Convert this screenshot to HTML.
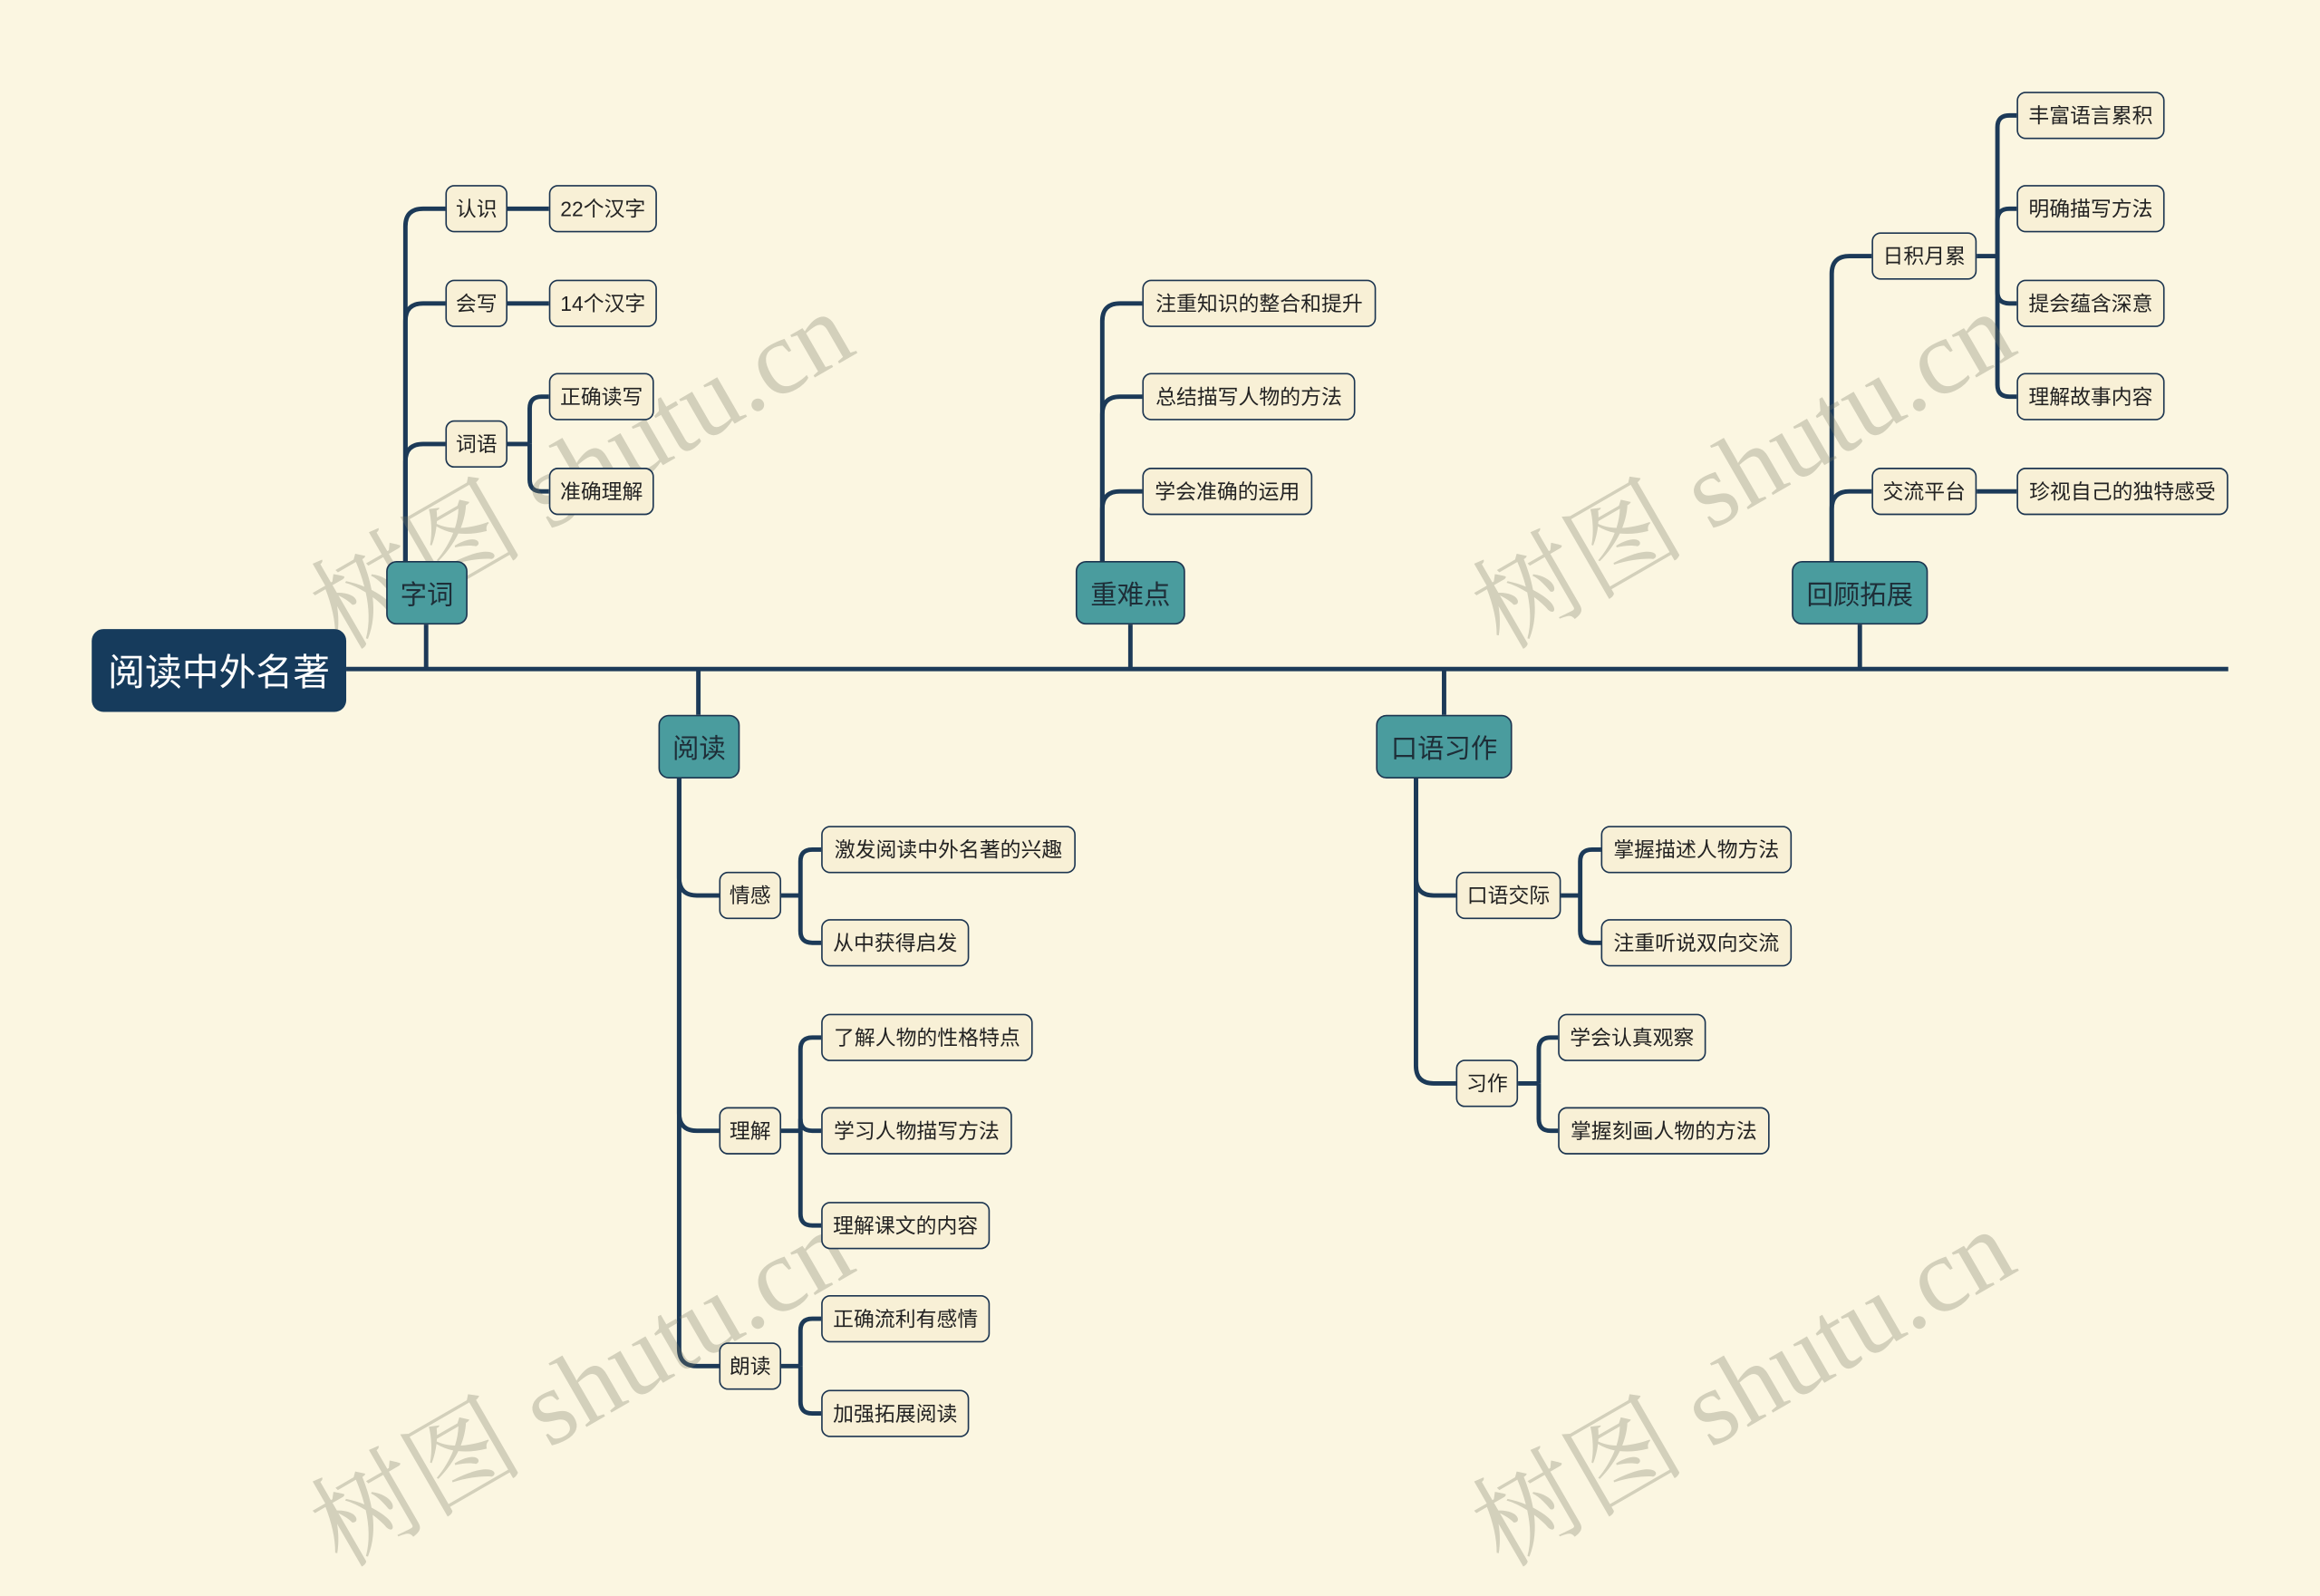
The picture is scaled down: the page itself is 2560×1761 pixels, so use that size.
<!DOCTYPE html>
<html><head><meta charset="utf-8">
<style>
html,body{margin:0;padding:0;width:2560px;height:1687px;overflow:hidden;background:#fbf6e1;}
#c{position:absolute;left:0;top:0;width:1568px;height:1033px;transform:scale(1.63265,1.6331);transform-origin:0 0;font-family:"Liberation Sans","Noto Sans CJK SC",sans-serif;}
svg{position:absolute;left:0;top:0;}
.n{position:absolute;box-sizing:border-box;border:1.5px solid #1c3550;border-radius:6px;background:#f8f0d6;color:#222;font-size:14px;display:flex;align-items:center;justify-content:center;white-space:nowrap;}
.m{background:#4a9c9e;font-size:18px;color:#1e2e38;border-radius:7px;}
.r{background:#163b5c;color:#fff;font-size:25px;border-radius:8px;border:none;}
.w{position:absolute;font-family:"Liberation Serif","Noto Serif CJK SC",serif;font-size:72px;color:rgba(120,120,100,0.3);transform:rotate(-30deg);white-space:nowrap;transform-origin:center;}
</style></head><body>
<div id="c">
<svg width="1568" height="1033" id="s"><g fill="none" stroke="#1c3a58" stroke-width="3" id="g">
<line x1="234" y1="452" x2="1506" y2="452"/>
<line x1="288" y1="422" x2="288" y2="452"/>
<line x1="764" y1="422" x2="764" y2="452"/>
<line x1="1257" y1="422" x2="1257" y2="452"/>
<line x1="472" y1="452" x2="472" y2="483"/>
<line x1="976" y1="452" x2="976" y2="483"/>
<line x1="343" y1="141" x2="371" y2="141"/>
<line x1="343" y1="205" x2="371" y2="205"/>
<line x1="1336" y1="332" x2="1363" y2="332"/>
</g></svg>
<div class="w" style="left:188px;top:260px">树图 shutu.cn</div>
<div class="w" style="left:973px;top:260px">树图 shutu.cn</div>
<div class="w" style="left:188px;top:880px">树图 shutu.cn</div>
<div class="w" style="left:973px;top:880px">树图 shutu.cn</div>

<div class="n r" style="left:62px;top:425px;width:172px;height:56px">阅读中外名著</div>
<div class="n m" style="left:261px;top:379px;width:55px;height:43px">字词</div>
<div class="n m" style="left:727px;top:379px;width:74px;height:43px">重难点</div>
<div class="n m" style="left:1211px;top:379px;width:92px;height:43px">回顾拓展</div>
<div class="n m" style="left:445px;top:483px;width:55px;height:43px">阅读</div>
<div class="n m" style="left:930px;top:483px;width:92px;height:43px">口语习作</div>

<div class="n" style="left:301px;top:125px;width:42px;height:32px">认识</div>
<div class="n" style="left:371px;top:125px;width:73px;height:32px">22个汉字</div>
<div class="n" style="left:301px;top:189px;width:42px;height:32px">会写</div>
<div class="n" style="left:371px;top:189px;width:73px;height:32px">14个汉字</div>
<div class="n" style="left:301px;top:284px;width:42px;height:32px">词语</div>
<div class="n" style="left:371px;top:252px;width:71px;height:32px">正确读写</div>
<div class="n" style="left:371px;top:316px;width:71px;height:32px">准确理解</div>

<div class="n" style="left:772px;top:189px;width:158px;height:32px">注重知识的整合和提升</div>
<div class="n" style="left:772px;top:252px;width:144px;height:32px">总结描写人物的方法</div>
<div class="n" style="left:772px;top:316px;width:115px;height:32px">学会准确的运用</div>

<div class="n" style="left:1265px;top:157px;width:71px;height:32px">日积月累</div>
<div class="n" style="left:1265px;top:316px;width:71px;height:32px">交流平台</div>
<div class="n" style="left:1363px;top:62px;width:100px;height:32px">丰富语言累积</div>
<div class="n" style="left:1363px;top:125px;width:100px;height:32px">明确描写方法</div>
<div class="n" style="left:1363px;top:189px;width:100px;height:32px">提会蕴含深意</div>
<div class="n" style="left:1363px;top:252px;width:100px;height:32px">理解故事内容</div>
<div class="n" style="left:1363px;top:316px;width:143px;height:32px">珍视自己的独特感受</div>

<div class="n" style="left:486px;top:589px;width:42px;height:32px">情感</div>
<div class="n" style="left:555px;top:558px;width:172px;height:32px">激发阅读中外名著的兴趣</div>
<div class="n" style="left:555px;top:621px;width:100px;height:32px">从中获得启发</div>
<div class="n" style="left:486px;top:748px;width:42px;height:32px">理解</div>
<div class="n" style="left:555px;top:685px;width:143px;height:32px">了解人物的性格特点</div>
<div class="n" style="left:555px;top:748px;width:129px;height:32px">学习人物描写方法</div>
<div class="n" style="left:555px;top:812px;width:114px;height:32px">理解课文的内容</div>
<div class="n" style="left:486px;top:907px;width:42px;height:32px">朗读</div>
<div class="n" style="left:555px;top:875px;width:114px;height:32px">正确流利有感情</div>
<div class="n" style="left:555px;top:939px;width:100px;height:32px">加强拓展阅读</div>

<div class="n" style="left:984px;top:589px;width:71px;height:32px">口语交际</div>
<div class="n" style="left:1082px;top:558px;width:129px;height:32px">掌握描述人物方法</div>
<div class="n" style="left:1082px;top:621px;width:129px;height:32px">注重听说双向交流</div>
<div class="n" style="left:984px;top:716px;width:42px;height:32px">习作</div>
<div class="n" style="left:1053px;top:685px;width:100px;height:32px">学会认真观察</div>
<div class="n" style="left:1053px;top:748px;width:143px;height:32px">掌握刻画人物的方法</div>
</div>
<script>
var g=document.getElementById('g');
function p(d){var e=document.createElementNS('http://www.w3.org/2000/svg','path');e.setAttribute('d',d);g.appendChild(e);}
function trunk(x,y0,ys,xe){var r=12;
 ys.forEach(function(y){var s=y<y0?1:-1;
  p('M'+x+' '+y0+' L'+x+' '+(y+s*r)+' Q'+x+' '+y+' '+(x+r)+' '+y+' L'+xe+' '+y);});}
function fork(xs,yc,xb,ys,xe){p('M'+xs+' '+yc+' L'+xb+' '+yc);var r=8;
 ys.forEach(function(y){var s=y<yc?1:-1;
  p('M'+xb+' '+yc+' L'+xb+' '+(y+s*r)+' Q'+xb+' '+y+' '+(xb+r)+' '+y+' L'+xe+' '+y);});}
trunk(274,380,[141,205,300],301);
fork(343,300,358,[268,332],371);
trunk(745,380,[205,268,332],772);
trunk(1238,380,[173,332],1265);
fork(1336,173,1350,[78,141,205,268],1363);
trunk(459,526,[605,764,923],486);
fork(528,605,541,[574,637],555);
fork(528,764,541,[701,764,828],555);
fork(528,923,541,[891,955],555);
trunk(957,526,[605,732],984);
fork(1055,605,1068,[574,637],1082);
fork(1026,732,1040,[701,764],1053);
</script>
</body></html>
